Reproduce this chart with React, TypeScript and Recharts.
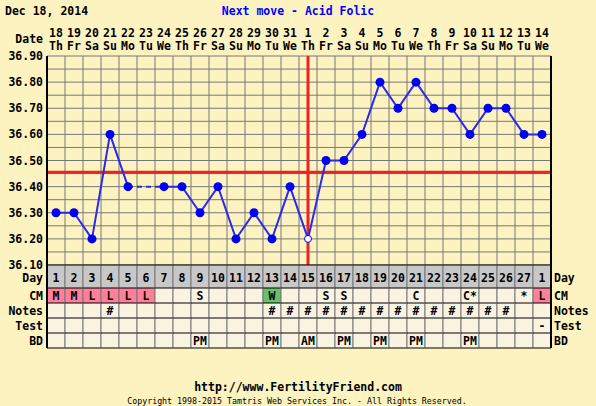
import React from 'react';
import {
  ComposedChart,
  Line,
  XAxis,
  YAxis,
  CartesianGrid,
  ReferenceLine,
} from 'recharts';

// chart values
const dateNums = [18, 19, 20, 21, 22, 23, 24, 25, 26, 27, 28, 29, 30, 31, 1, 2, 3, 4, 5, 6, 7, 8, 9, 10, 11, 12, 13, 14];
const weekdays = ['Th', 'Fr', 'Sa', 'Su', 'Mo', 'Tu', 'We', 'Th', 'Fr', 'Sa', 'Su', 'Mo', 'Tu', 'We', 'Th', 'Fr', 'Sa', 'Su', 'Mo', 'Tu', 'We', 'Th', 'Fr', 'Sa', 'Su', 'Mo', 'Tu', 'We'];
const cycleDays = ['1', '2', '3', '4', '5', '6', '7', '8', '9', '10', '11', '12', '13', '14', '15', '16', '17', '18', '19', '20', '21', '22', '23', '24', '25', '26', '27', '1'];
const temps: (number | null)[] = [
  36.3, 36.3, 36.2, 36.6, 36.4, null, 36.4, 36.4, 36.3, 36.4, 36.2, 36.3, 36.2, 36.4,
  36.2, 36.5, 36.5, 36.6, 36.8, 36.7, 36.8, 36.7, 36.7, 36.6, 36.7, 36.7, 36.6, 36.6,
];
const cmRow = ['M', 'M', 'L', 'L', 'L', 'L', '', '', 'S', '', '', '', 'W', '', '', 'S', 'S', '', '', '', 'C', '', '', 'C*', '', '', '*', 'L'];
const notesRow = ['', '', '', '#', '', '', '', '', '', '', '', '', '#', '#', '#', '#', '#', '#', '#', '#', '#', '#', '#', '#', '#', '#', '', ''];
const testRow = ['', '', '', '', '', '', '', '', '', '', '', '', '', '', '', '', '', '', '', '', '', '', '', '', '', '', '', '-'];
const bdRow = ['', '', '', '', '', '', '', '', 'PM', '', '', '', 'PM', '', 'AM', '', 'PM', '', 'PM', '', 'PM', '', '', 'PM', '', '', '', ''];
const openDays = [15];
const coverline = 36.455;
const ovulationDay = 15;
// every 0.05 gets a grid line, only the 0.10 steps get a label
const tempTicks = [36.1, 36.15, 36.2, 36.25, 36.3, 36.35, 36.4, 36.45, 36.5, 36.55, 36.6, 36.65, 36.7, 36.75, 36.8, 36.85, 36.9];
const tempLabels = ['36.10', '', '36.20', '', '36.30', '', '36.40', '', '36.50', '', '36.60', '', '36.70', '', '36.80', '', '36.90'];

const days = temps.map((_, i) => i + 1);
const dayEdges = [0.5, ...days.map((d) => d + 0.5)];

// dashed bridge across missing temps
const gapTemps = temps.map((t, i) =>
  temps[i - 1] === null || temps[i + 1] === null ? t : null
);

const data = days.map((d, i) => ({ day: d, temp: temps[i], gap: gapTemps[i] }));

const FONT = '"DejaVu Sans Mono", "Liberation Mono", monospace';
const BG = '#fdf3c1';
const CELL = '#fbf3e1';
const GRID = '#777777';
const BLUE = '#0000f2';
const RED = '#ee2222';

const txt = { fontFamily: FONT, fontSize: 11.5, fontWeight: 700 } as const;

const cmFill = (v: string) => (v === 'M' || v === 'L' ? '#ff8098' : v === 'W' ? '#66c266' : CELL);
const labelOf = (v: number) => tempLabels[tempTicks.indexOf(v)] ?? '';

const TopTick = (props: any) => {
  const { x, payload, index } = props;
  const i = payload.value - 1;
  return (
    <g>
      {index === 0 && (
        <text x={x - 13} y={43} textAnchor="end" {...txt} fill="#000">Date</text>
      )}
      <text x={x} y={37} textAnchor="middle" {...txt} fill="#000">{dateNums[i]}</text>
      <text x={x} y={50} textAnchor="middle" {...txt} fill="#000">{weekdays[i]}</text>
    </g>
  );
};

const TempTick = (props: any) => {
  const { x, y, payload, side } = props;
  const s = labelOf(payload.value);
  if (!s) return <g />;
  return side === 'left' ? (
    <text x={x} y={y + 4} textAnchor="end" {...txt} fill="#000">{s}</text>
  ) : (
    <text x={x} y={y + 4} textAnchor="start" {...txt} fill="#000">{s}</text>
  );
};

const rowTops = [265, 288, 303, 318, 333, 348];
const rowLabels = ['Day', 'CM', 'Notes', 'Test', 'BD'];
const rowBase = [282, 300, 315, 330, 345];

const TableTick = (props: any) => {
  const { x, payload, index } = props;
  const i = payload.value - 1;
  const l = x - 9;
  const r = x + 9;
  const vals = [cycleDays[i], cmRow[i], notesRow[i], testRow[i], bdRow[i]];
  const fills = ['#c8c8c8', cmFill(cmRow[i]), CELL, CELL, CELL];
  const last = index === days.length - 1;
  return (
    <g>
      {vals.map((v, k) => (
        <g key={k}>
          <rect x={l} y={rowTops[k]} width={18} height={rowTops[k + 1] - rowTops[k]} fill={fills[k]} />
          {v !== '' && (
            <text x={x} y={rowBase[k]} textAnchor="middle" {...txt} fill="#000">{v}</text>
          )}
        </g>
      ))}
      <line x1={l} x2={l} y1={265} y2={348} stroke={index === 0 ? '#000' : GRID} strokeWidth={index === 0 ? 2 : 1} />
      <line x1={r} x2={r} y1={265} y2={348} stroke={last ? '#000' : GRID} strokeWidth={last ? 2 : 1} />
      {rowTops.map((y) => (
        <line key={y} x1={l} x2={r} y1={y} y2={y} stroke="#000" strokeWidth={1} />
      ))}
      {index === 0 &&
        rowLabels.map((lab, k) => (
          <text key={lab} x={l - 4} y={rowBase[k]} textAnchor="end" {...txt} fill="#000">{lab}</text>
        ))}
      {last &&
        rowLabels.map((lab, k) => (
          <text key={lab} x={r + 3} y={rowBase[k]} textAnchor="start" {...txt} fill="#000">{lab}</text>
        ))}
    </g>
  );
};

const TempDot = (props: any) => {
  const { cx, cy, payload } = props;
  if (cy == null || payload.temp == null) return <g />;
  if (openDays.includes(payload.day)) {
    return <circle cx={cx} cy={cy} r={3.5} fill="#ffffff" stroke={BLUE} strokeWidth={1} />;
  }
  return <circle cx={cx} cy={cy} r={4.5} fill={BLUE} stroke="none" />;
};

export default function App() {
  return (
    <div style={{ position: 'absolute', left: 0, top: 0, width: 596, height: 406, background: BG }}>
      <ComposedChart width={596} height={406} data={data} margin={{ top: 0, right: 0, bottom: 0, left: 0 }}>
        <text x={5} y={15} {...txt} fill="#000">Dec 18, 2014</text>
        <text x={298} y={15} textAnchor="middle" {...txt} fill="#0000ff">Next move - Acid Folic</text>
        <text x={298} y={391} textAnchor="middle" {...txt} fill="#000">http://www.FertilityFriend.com</text>
        <text x={297} y={404} textAnchor="middle" fontFamily={FONT} fontSize={8.3} fill="#000">
          Copyright 1998-2015 Tamtris Web Services Inc. - All Rights Reserved.
        </text>

        <XAxis xAxisId="grid" type="number" dataKey="day" domain={[0.5, 28.5]} ticks={dayEdges} interval={0} hide />
        <XAxis
          xAxisId="top"
          orientation="top"
          type="number"
          dataKey="day"
          domain={[0.5, 28.5]}
          ticks={days}
          interval={0}
          height={56}
          axisLine={false}
          tickLine={false}
          tick={<TopTick />}
        />
        <XAxis
          xAxisId="main"
          type="number"
          dataKey="day"
          domain={[0.5, 28.5]}
          ticks={days}
          interval={0}
          height={141}
          axisLine={{ stroke: '#000', strokeWidth: 1 }}
          tickLine={false}
          tick={<TableTick />}
        />
        <YAxis
          yAxisId="left"
          type="number"
          domain={[36.1, 36.9]}
          ticks={tempTicks}
          interval={0}
          width={47}
          tickLine={false}
          tickSize={0}
          tickMargin={4}
          axisLine={{ stroke: '#000', strokeWidth: 2 }}
          tick={<TempTick side="left" />}
        />
        <YAxis
          yAxisId="right"
          orientation="right"
          type="number"
          domain={[36.1, 36.9]}
          ticks={tempTicks}
          interval={0}
          width={45}
          tickLine={false}
          tickSize={0}
          tickMargin={3}
          axisLine={{ stroke: '#000', strokeWidth: 2 }}
          tick={<TempTick side="right" />}
        />
        <CartesianGrid xAxisId="grid" yAxisId="left" stroke={GRID} strokeWidth={1} fill="none" />

        <ReferenceLine xAxisId="main" yAxisId="left" y={coverline} stroke={RED} strokeWidth={3} />
        <ReferenceLine xAxisId="main" yAxisId="left" x={ovulationDay} stroke={RED} strokeWidth={3} />

        <Line
          xAxisId="main"
          yAxisId="left"
          dataKey="gap"
          stroke="#2a2aee"
          strokeWidth={2}
          strokeDasharray="5 4"
          connectNulls
          dot={false}
          activeDot={false}
          isAnimationActive={false}
        />
        <Line
          xAxisId="main"
          yAxisId="left"
          dataKey="temp"
          stroke="#2a2aee"
          strokeWidth={2}
          connectNulls={false}
          dot={<TempDot />}
          activeDot={false}
          isAnimationActive={false}
        />
      </ComposedChart>
    </div>
  );
}
